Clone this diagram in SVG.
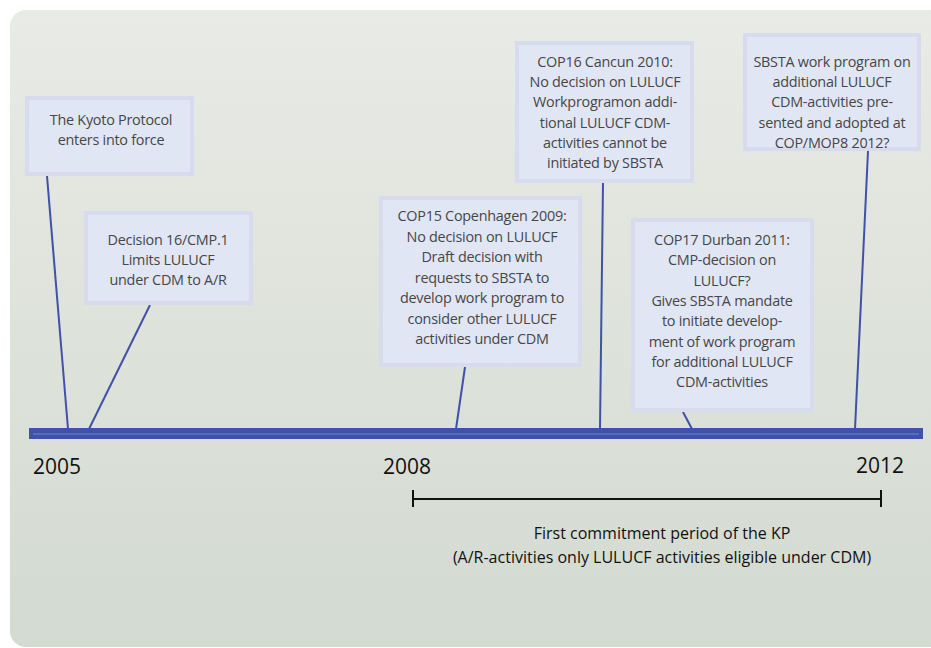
<svg xmlns="http://www.w3.org/2000/svg" width="931" height="648" viewBox="0 0 931 648">
<defs>
<linearGradient id="bg" x1="0" y1="0" x2="0" y2="1">
<stop offset="0" stop-color="#e9ebe6"/>
<stop offset="1" stop-color="#d3dad0"/>
</linearGradient>
<style>
.box{fill:#e1e6f5;stroke:#d8dbee;stroke-width:4}
.t{font-family:"Open Sans","Liberation Sans",sans-serif;font-size:14.4px;letter-spacing:-0.25px;fill:#464646;text-anchor:middle}
.yr{font-family:"Open Sans","Liberation Sans",sans-serif;font-size:21px;fill:#111}
.cap{font-family:"Open Sans","Liberation Sans",sans-serif;font-size:16px;fill:#111;text-anchor:middle}
.c{stroke:#3f51aa;stroke-width:2;fill:none}
</style>
</defs>
<rect width="931" height="648" fill="#ffffff"/>
<rect x="10" y="10" width="940" height="637" rx="16" fill="url(#bg)"/>

<g id="connectors">
<line class="c" x1="47" y1="176" x2="68" y2="429"/>
<line class="c" x1="150" y1="305" x2="89" y2="429"/>
<line class="c" x1="465" y1="367" x2="456" y2="429"/>
<line class="c" x1="603" y1="183" x2="600" y2="429"/>
<line class="c" x1="683" y1="412" x2="692" y2="429"/>
<line class="c" x1="868" y1="151" x2="855" y2="429"/>
</g>

<g id="timeline">
<rect x="29" y="428" width="894" height="11" fill="#3f51aa"/>
<line x1="33" y1="434" x2="919" y2="434" stroke="#6f88d4" stroke-width="1"/>
<text class="yr" x="33" y="474">2005</text>
<text class="yr" x="383" y="474">2008</text>
<text class="yr" x="856" y="473">2012</text>
</g>

<g id="period">
<line x1="413" y1="499" x2="881" y2="499" stroke="#111" stroke-width="2"/>
<line x1="413" y1="490" x2="413" y2="507" stroke="#111" stroke-width="2"/>
<line x1="881" y1="490" x2="881" y2="507" stroke="#111" stroke-width="2"/>
<text class="cap" x="662" y="539">First commitment period of the KP</text>
<text class="cap" x="662" y="563">(A/R-activities only LULUCF activities eligible under CDM)</text>
</g>

<g id="kyoto">
<rect class="box" x="27" y="98" width="165" height="76"/>
<text class="t" x="111" y="125">The Kyoto Protocol</text>
<text class="t" x="111" y="145">enters into force</text>
</g>

<g id="decision16">
<rect class="box" x="86" y="213" width="165" height="90"/>
<text class="t" x="168" y="245">Decision 16/CMP.1</text>
<text class="t" x="168" y="265">Limits LULUCF</text>
<text class="t" x="168" y="285">under CDM to A/R</text>
</g>

<g id="cop15">
<rect class="box" x="381" y="198" width="199" height="167"/>
<text class="t" x="482" y="221">COP15 Copenhagen 2009:</text>
<text class="t" x="482" y="241.5">No decision on LULUCF</text>
<text class="t" x="482" y="262">Draft decision with</text>
<text class="t" x="482" y="282.5">requests to SBSTA to</text>
<text class="t" x="482" y="303">develop work program to</text>
<text class="t" x="482" y="323.5">consider other LULUCF</text>
<text class="t" x="482" y="344">activities under CDM</text>
</g>

<g id="cop16">
<rect class="box" x="517" y="43" width="175" height="138"/>
<text class="t" x="605" y="67">COP16 Cancun 2010:</text>
<text class="t" x="605" y="87.2">No decision on LULUCF</text>
<text class="t" x="605" y="107.4">Workprogramon addi-</text>
<text class="t" x="605" y="127.6">tional LULUCF CDM-</text>
<text class="t" x="605" y="147.8">activities cannot be</text>
<text class="t" x="605" y="168">initiated by SBSTA</text>
</g>

<g id="cop17">
<rect class="box" x="633" y="220" width="179" height="190"/>
<text class="t" x="722" y="245">COP17 Durban 2011:</text>
<text class="t" x="722" y="265.3">CMP-decision on</text>
<text class="t" x="722" y="285.6">LULUCF?</text>
<text class="t" x="722" y="305.9">Gives SBSTA mandate</text>
<text class="t" x="722" y="326.2">to initiate develop-</text>
<text class="t" x="722" y="346.5">ment of work program</text>
<text class="t" x="722" y="366.8">for additional LULUCF</text>
<text class="t" x="722" y="387">CDM-activities</text>
</g>

<g id="sbsta">
<rect class="box" x="745" y="35" width="174" height="114"/>
<text class="t" x="832" y="67">SBSTA work program on</text>
<text class="t" x="832" y="87.2">additional LULUCF</text>
<text class="t" x="832" y="107.4">CDM-activities pre-</text>
<text class="t" x="832" y="127.6">sented and adopted at</text>
<text class="t" x="832" y="148">COP/MOP8 2012?</text>
</g>
</svg>
